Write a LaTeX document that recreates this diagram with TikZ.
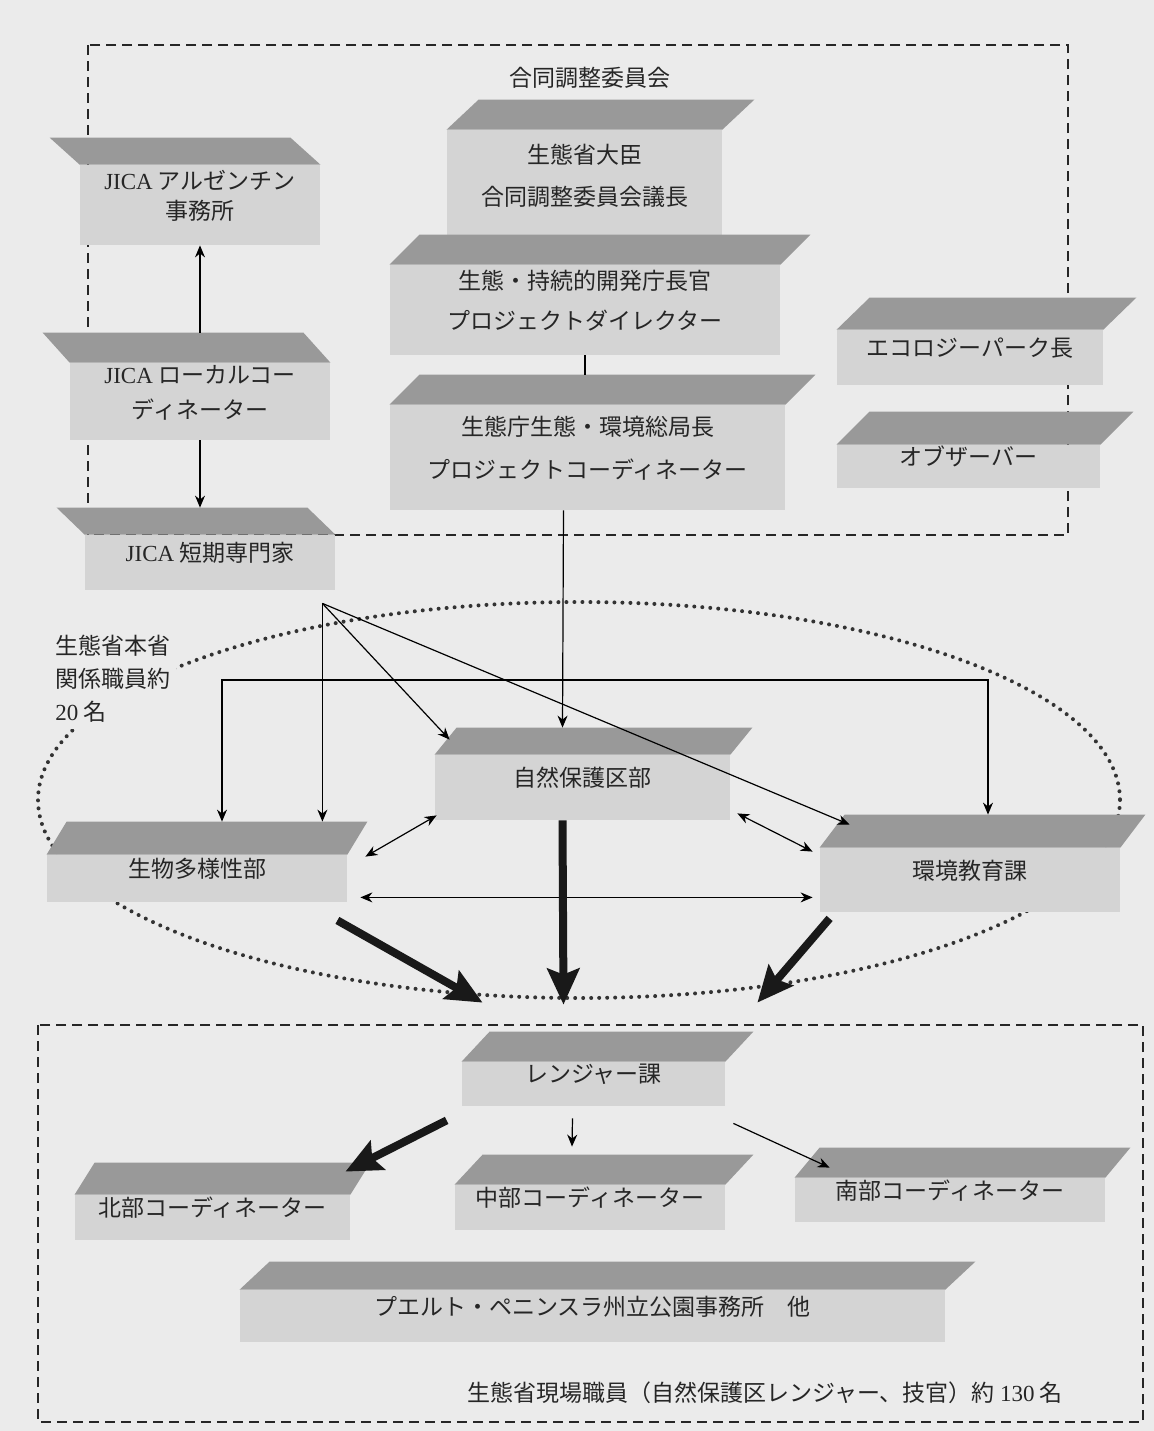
\documentclass[tikz,border=0pt]{standalone}
\usepackage{fontspec}
\setmainfont{Liberation Serif}
\newfontfamily\jp{Noto Sans CJK JP}
\usetikzlibrary{arrows.meta,fit,calc}
\newcommand\orgbox[8]{%
  \node[face, fit={(#2,#3)(#4,#5)}] (#1) {#8};
  \fill[topband] (#1.north west) -- (#1.north east) -- ($(#1.north east)+(#7,-#6)$) -- ($(#1.north west)+(#7,-#6)$) -- cycle;
  \coordinate (#1T) at ($(#1.north)+(0,-#6)$);
}
\begin{document}
\begin{tikzpicture}[x=0.5pt,y=-0.5pt,
  face/.style={fill=black!17, draw=none, inner sep=0pt, align=center, text=black!85,
    font=\jp\fontsize{11.5}{15}\selectfont},
  topband/.style={fill=black!40, draw=none},
  plain/.style={font=\jp\fontsize{11.5}{16.5}\selectfont, text=black!85, inner sep=0pt},
  frame/.style={draw=black!85, line width=0.7pt, dash pattern=on 5pt off 3pt},
  dots/.style={draw=black!80, line width=2pt, dash pattern=on 0pt off 4pt, line cap=round},
  conn/.style={draw=black, line width=0.6pt, -{Stealth[length=6pt,width=5pt]}},
  biconn/.style={draw=black, line width=0.6pt, {Stealth[length=6pt,width=5pt]}-{Stealth[length=6pt,width=5pt]}},
  bigarrow/.style={draw=black!90, line width=4pt, -{Stealth[length=18pt,width=16pt,inset=3pt]}},
  plainline/.style={draw=black, line width=0.6pt}
]
\useasboundingbox (0,0) rectangle (1154,1431);
\fill[black!8] (0,0) rectangle (1154,1431);

% frames
\draw[frame] (88,45) rectangle (1068,535);
\draw[frame] (38,1025) rectangle (1143,1422);
\draw[dots] (579,800) ellipse [x radius=541, y radius=198];

\node[plain] (jcc) at (590,78) {合同調整委員会};

% top boxes
\orgbox{ja}{80}{165}{320}{245}{27}{-30}{{\rmfamily JICA} アルゼンチン\\事務所}
\orgbox{min}{447}{130}{722}{242}{30}{32}{生態省大臣\\[6pt]合同調整委員会議長}
\orgbox{dir}{390}{265}{780}{355}{30}{30}{生態・持続的開発庁長官\\[5pt]プロジェクトダイレクター}
\orgbox{coord}{390}{405}{785}{510}{30}{30}{生態庁生態・環境総局長\\[6.5pt]プロジェクトコーディネーター}
\orgbox{jl}{70}{363}{330}{440}{30}{-27}{{\rmfamily JICA} ローカルコー\\[2.5pt]ディネーター}
\orgbox{js}{85}{535}{335}{590}{27}{-28}{{\rmfamily JICA} 短期専門家}
\orgbox{eco}{837}{330}{1103}{385}{32}{33}{エコロジーパーク長}
\orgbox{obs}{837}{445}{1100}{488}{33}{33}{オブザーバー}

% middle boxes
\orgbox{nat}{435}{755}{730}{820}{27}{22}{自然保護区部}
\orgbox{bio}{47}{855}{347}{902}{33}{20}{生物多様性部}
\orgbox{env}{820}{848}{1120}{912}{33}{25}{環境教育課}

\node[plain, align=left, anchor=west, fill=black!8, inner sep=3pt] (staff) at (49,679) {生態省本省\\関係職員約\\{\rmfamily 20} 名};

% bottom boxes
\orgbox{rng}{462}{1062}{725}{1106}{30}{28}{レンジャー課}
\orgbox{north}{75}{1195}{350}{1240}{32}{20}{北部コーディネーター}
\orgbox{mid}{455}{1185}{725}{1230}{30}{28}{中部コーディネーター}
\orgbox{south}{795}{1178}{1105}{1222}{30}{25}{南部コーディネーター}
\orgbox{pp}{240}{1290}{945}{1342}{28}{30}{プエルト・ペニンスラ州立公園事務所　他}

\node[plain] (field) at (765,1393) {生態省現場職員（自然保護区レンジャー、技官）約 {\rmfamily 130} 名};

% connectors top
\draw[conn] (jlT) -- (ja.south);
\draw[conn] (jl.south) -- (jl.south |- jsT);
\draw[plainline] (dir.south) -- (dir.south |- coordT);
\draw[conn] ([xshift=-12pt]coord.south) -- ([xshift=-10pt]natT);

% from JICA short-term experts
\coordinate (jsout) at ($(js.south east)+(-13,13)$);
\draw[conn] (jsout) -- (jsout |- bioT);
\draw[conn] (jsout) -- ($(nat.north west)+(15,-15)$);
\draw[conn] (jsout) -- ($(env.north west)+(30,-23)$);

% distribution bus
\coordinate (busL) at (222,680);
\coordinate (busR) at (988,680);
\draw[biconn] (busL |- bioT) -- (busL) -- (busR) -- (busR |- envT);

% mutual links
\draw[biconn] ($(nat.south west)+(2,-5)$) -- ($(bio.north east)+(18,2)$);
\draw[biconn] ($(nat.south east)+(7,-7)$) -- ($(env.north west)+(-7,4)$);
\draw[biconn] ($(bio.south east)+(13,-5)$) -- ($(env.south west)+(-7,-15)$);

% thick arrows to ranger section
\draw[bigarrow] ($(bio.south east)+(-10,18)$) -- ($(rng.north west)+(21,-59)$);
\draw[bigarrow] ([xshift=-10pt]nat.south) -- ($(rngT)+(-30,-27)$);
\draw[bigarrow] ($(env.south west)+(10,6)$) -- ($(rng.north east)+(32,-59)$);

% ranger to coordinators
\draw[bigarrow] ($(rng.south west)+(-15,14)$) -- ($(north.north east)+(-5,-23)$);
\draw[conn] ($(rng.south)+(-21,12)$) -- ($(midT)+(-18,-8)$);
\draw[conn] ($(rng.south east)+(8,17)$) -- ($(south.north west)+(35,-10)$);
\end{tikzpicture}
\end{document}
